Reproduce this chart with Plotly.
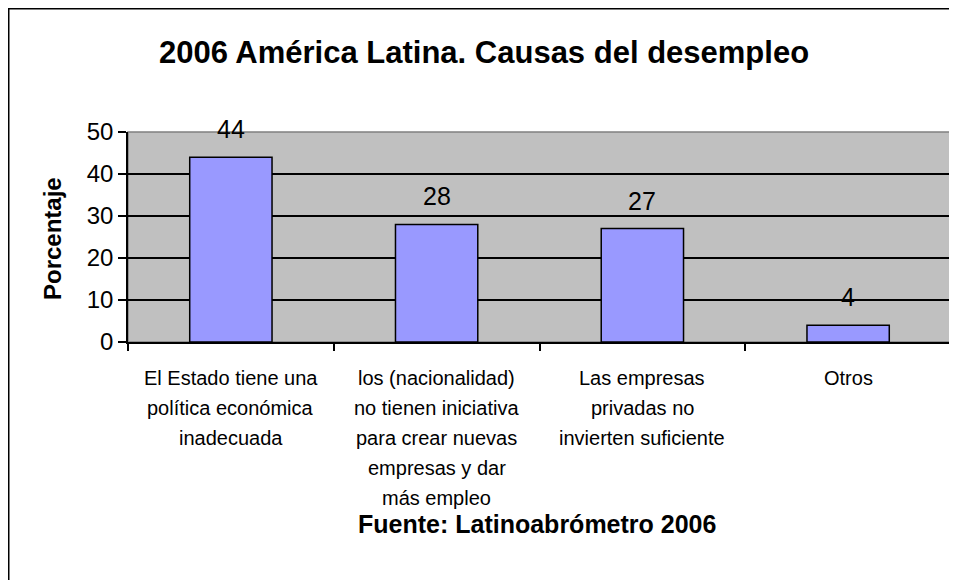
import plotly.graph_objects as go

# data
categories = [
    "El Estado tiene una<br>política económica<br>inadecuada",
    "los (nacionalidad)<br>no tienen iniciativa<br>para crear nuevas<br>empresas y dar<br>más empleo",
    "Las empresas<br>privadas no<br>invierten suficiente",
    "Otros",
]
values = [44, 28, 27, 4]
y_ticks = [0, 10, 20, 30, 40, 50]

FONT = "Liberation Sans, Arial, sans-serif"
OFF = 8  # page body margin
W, H = 957 - OFF, 580 - OFF
L, R, T, B = 128 - OFF, 6, 132 - OFF, 238
plot_w = W - L - R
plot_h = H - T - B
PLOT_BOTTOM = 342  # absolute page y of the zero line


def py(y_abs):
    return (PLOT_BOTTOM - y_abs) / plot_h


def px(x_abs):
    return (x_abs - 128) / plot_w


fig = go.Figure(go.Bar(
    x=categories,
    y=values,
    width=0.4,
    marker=dict(color="#9999FF", line=dict(color="#000000", width=1.5)),
    hoverinfo="x+y",
))

annotations = []
# value labels above the bars
for cat, val in zip(categories, values):
    annotations.append(dict(
        x=cat, y=val, xref="x", yref="y", text=str(val), showarrow=False,
        yanchor="bottom", yshift=12, font=dict(family=FONT, size=25, color="#000000"),
    ))

# category labels, one annotation per line for Excel-like line spacing
for cat in categories:
    for k, line in enumerate(cat.split("<br>")):
        annotations.append(dict(
            x=cat, y=py(378 + 30 * k), xref="x", yref="paper", text=line,
            showarrow=False, xanchor="center", yanchor="middle",
            font=dict(family=FONT, size=20, color="#000000"),
        ))

annotations.append(dict(
    x=px(52), y=py(239), xref="paper", yref="paper", text="<b>Porcentaje</b>",
    textangle=-90, showarrow=False, xanchor="center", yanchor="middle",
    font=dict(family=FONT, size=24, color="#000000"),
))
annotations.append(dict(
    x=px(537), y=py(524), xref="paper", yref="paper",
    text="<b>Fuente: Latinoabrómetro 2006</b>", showarrow=False,
    xanchor="center", yanchor="middle", font=dict(family=FONT, size=25, color="#000000"),
))

shapes = [
    # plot area border (top/right grey)
    dict(type="rect", xref="paper", yref="paper", x0=0, x1=1, y0=0, y1=1,
         line=dict(color="#808080", width=1.5), layer="below"),
    # outer chart frame, cropped by the image
    dict(type="rect", xref="paper", yref="paper",
         x0=px(8.5), x1=1.3, y0=-3, y1=py(8.5),
         line=dict(color="#000000", width=2)),
]

fig.update_layout(
    width=W, height=H,
    margin=dict(l=L, r=R, t=T, b=B),
    paper_bgcolor="#FFFFFF",
    plot_bgcolor="#C0C0C0",
    font=dict(family=FONT, color="#000000"),
    title=dict(
        text="<b>2006 América Latina. Causas del desempleo</b>",
        x=(484 - OFF) / W, xanchor="center", y=1 - (52 - OFF) / H, yanchor="middle",
        font=dict(family=FONT, size=31, color="#000000"),
    ),
    showlegend=False,
    bargap=0.6,
    annotations=annotations,
    shapes=shapes,
    xaxis=dict(
        type="category", showticklabels=False, tickson="boundaries",
        ticks="outside", ticklen=7, tickcolor="#000000", tickwidth=1.5,
        showline=True, linecolor="#000000", linewidth=1.5, showgrid=False,
        range=[-0.5, len(categories) - 0.5],
    ),
    yaxis=dict(
        range=[0, 50], tickvals=y_ticks, ticks="outside", ticklen=8,
        tickcolor="#000000", tickwidth=1.5, showline=True, linecolor="#000000",
        linewidth=1.5, showgrid=True, gridcolor="#000000", gridwidth=1.5,
        zeroline=False, tickfont=dict(family=FONT, size=24, color="#000000"),
    ),
)

fig.write_html("out.html")
